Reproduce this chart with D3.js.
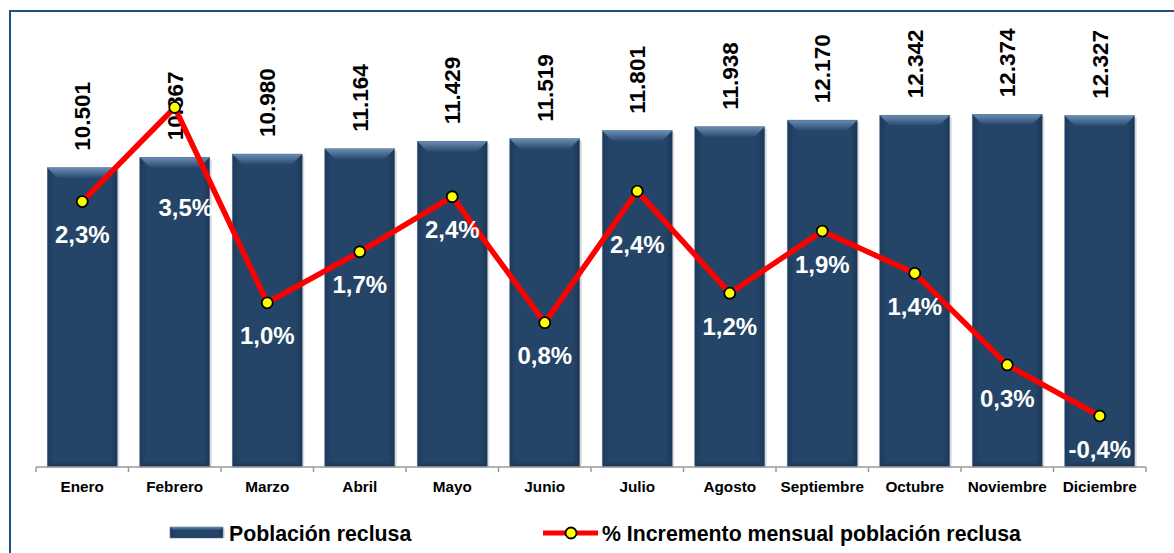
<!DOCTYPE html>
<html>
<head>
<meta charset="utf-8">
<script src="https://cdn.jsdelivr.net/npm/d3@7"></script>
<style>
  html, body { margin: 0; padding: 0; background: #ffffff; }
  svg { display: block; font-family: "Liberation Sans", Arial, sans-serif; }
</style>
</head>
<body>
<svg id="chart" width="1174" height="553"></svg>
<script>
// ---- data ----
const months = ["Enero","Febrero","Marzo","Abril","Mayo","Junio","Julio","Agosto","Septiembre","Octubre","Noviembre","Diciembre"];
const population = [10501,10867,10980,11164,11429,11519,11801,11938,12170,12342,12374,12327];
const monthlyIncrease = [2.31,3.49,1.04,1.68,2.37,0.79,2.44,1.16,1.94,1.41,0.26,-0.38];
const seriesNames = ["Población reclusa","% Incremento mensual población reclusa"];

// ---- layout ----
const W = 1174, H = 553;
const plot = {left: 36, right: 1146, top: 11, bottom: 467};
const svg = d3.select("#chart");
const defs = svg.append("defs");

const hg = defs.append("linearGradient").attr("id","barBody").attr("x1","0").attr("x2","1").attr("y1","0").attr("y2","0");
hg.append("stop").attr("offset","0").attr("stop-color","#1d3a5c");
hg.append("stop").attr("offset","0.1").attr("stop-color","#244568");
hg.append("stop").attr("offset","0.9").attr("stop-color","#244568");
hg.append("stop").attr("offset","1").attr("stop-color","#1b3656");
const tg = defs.append("linearGradient").attr("id","barTop").attr("x1","0").attr("x2","0").attr("y1","0").attr("y2","1");
tg.append("stop").attr("offset","0").attr("stop-color","#6a8db3");
tg.append("stop").attr("offset","1").attr("stop-color","#2b4d73");
const bg = defs.append("linearGradient").attr("id","barBottom").attr("x1","0").attr("x2","0").attr("y1","0").attr("y2","1");
bg.append("stop").attr("offset","0").attr("stop-color","#244568");
bg.append("stop").attr("offset","1").attr("stop-color","#1a3452");

const x = d3.scaleBand().domain(months).range([plot.left, plot.right]).paddingInner(0.243).paddingOuter(0.1215);
const y = d3.scaleLinear().domain([0,16000]).range([plot.bottom, plot.top]);
const y2 = d3.scaleLinear().domain([-1.02, 4.70]).range([plot.bottom, plot.top]);

// frame
svg.append("path").attr("d", `M10,${H} L10,11 L${W},11`).attr("fill","none").attr("stroke","#1f4e82").attr("stroke-width",2);

function bevelBar(g, bx, by, bw, bh, bev) {
  g.append("rect").attr("x", bx+2).attr("y", by+2).attr("width", bw).attr("height", bh-2).attr("fill","#c8c8c8").attr("opacity",0.6);
  g.append("rect").attr("x", bx).attr("y", by).attr("width", bw).attr("height", bh).attr("fill","url(#barBody)");
  g.append("path").attr("d", `M${bx},${by} L${bx+bw},${by} L${bx+bw-bev},${by+bev} L${bx+bev},${by+bev} Z`).attr("fill","url(#barTop)");
  g.append("path").attr("d", `M${bx},${by+bh} L${bx+bw},${by+bh} L${bx+bw-bev*0.6},${by+bh-bev*0.6} L${bx+bev*0.6},${by+bh-bev*0.6} Z`).attr("fill","url(#barBottom)");
  g.append("rect").attr("x", bx).attr("y", by).attr("width", bw).attr("height", bh).attr("fill","none").attr("stroke","#5d7a99").attr("stroke-width",0.6);
}

// bars
const barsG = svg.append("g");
months.forEach((m,i) => {
  const g = barsG.append("g");
  const by = y(population[i]);
  bevelBar(g, x(m), by, x.bandwidth(), y(0)-by, 10);
});

// axis
const axisG = svg.append("g").attr("transform", `translate(0,${plot.bottom})`);
axisG.append("line").attr("x1", plot.left).attr("x2", plot.right).attr("y1",0).attr("y2",0).attr("stroke","#9a9a9a").attr("stroke-width",1.5);
const step = x.step();
d3.range(months.length+1).forEach(k => {
  const tx = plot.left + k*step;
  axisG.append("line").attr("x1",tx).attr("x2",tx).attr("y1",0).attr("y2",5).attr("stroke","#9a9a9a").attr("stroke-width",1.5);
});
axisG.selectAll("text.cat").data(months).enter().append("text")
  .attr("x", d => x(d) + x.bandwidth()/2).attr("y", 25)
  .attr("text-anchor","middle").attr("font-size","15.3px").attr("font-weight","bold").attr("fill","#000")
  .text(d => d);

// value labels (rotated)
const fmtPop = v => d3.format(",")(v).replace(/,/g, ".");
svg.append("g").selectAll("text").data(months).enter().append("text")
  .attr("transform", (d,i) => `translate(${x(d)+x.bandwidth()/2},${y(population[i]) - 17}) rotate(-90)`)
  .attr("dy","0.36em")
  .attr("text-anchor","start").attr("font-size","22.5px").attr("font-weight","bold").attr("fill","#000")
  .text((d,i) => fmtPop(population[i]));

// line
const pts = months.map((m,i) => [x(m)+x.bandwidth()/2, y2(monthlyIncrease[i])]);
svg.append("path").attr("d", d3.line()(pts)).attr("fill","none").attr("stroke","#ff0000").attr("stroke-width",5.5).attr("stroke-linejoin","miter");
svg.append("g").selectAll("circle").data(pts).enter().append("circle")
  .attr("cx", d => d[0]).attr("cy", d => d[1]).attr("r", 5.5)
  .attr("fill","#ffff00").attr("stroke","#000").attr("stroke-width",1.8);

// percentage labels
const labelAdjust = {"Febrero": [11, 67], "Julio": [0, 20]};
const fmtPct = v => d3.format(".1f")(v).replace(".", ",").replace("−","-") + "%";
svg.append("g").selectAll("text").data(months).enter().append("text")
  .attr("x", (d,i) => pts[i][0] + (labelAdjust[d] ? labelAdjust[d][0] : 0))
  .attr("y", (d,i) => pts[i][1] + 33 + (labelAdjust[d] ? labelAdjust[d][1] : 0))
  .attr("dy","0.36em")
  .attr("text-anchor","middle").attr("font-size","24px").attr("font-weight","bold").attr("fill","#ffffff")
  .text((d,i) => fmtPct(monthlyIncrease[i]));

// legend
const lg = svg.append("g");
bevelBar(lg, 170, 527, 53, 11, 3);
lg.append("text").attr("x",229).attr("y",541).attr("font-size","21.3px").attr("font-weight","bold").attr("fill","#000").text(seriesNames[0]);
lg.append("line").attr("x1",543).attr("x2",598).attr("y1",533).attr("y2",533).attr("stroke","#ff0000").attr("stroke-width",5);
lg.append("circle").attr("cx",571).attr("cy",533).attr("r",5.5).attr("fill","#ffff00").attr("stroke","#000").attr("stroke-width",1.8);
lg.append("text").attr("x",602).attr("y",541).attr("font-size","21.3px").attr("font-weight","bold").attr("fill","#000").text(seriesNames[1]);
</script>
</body>
</html>
